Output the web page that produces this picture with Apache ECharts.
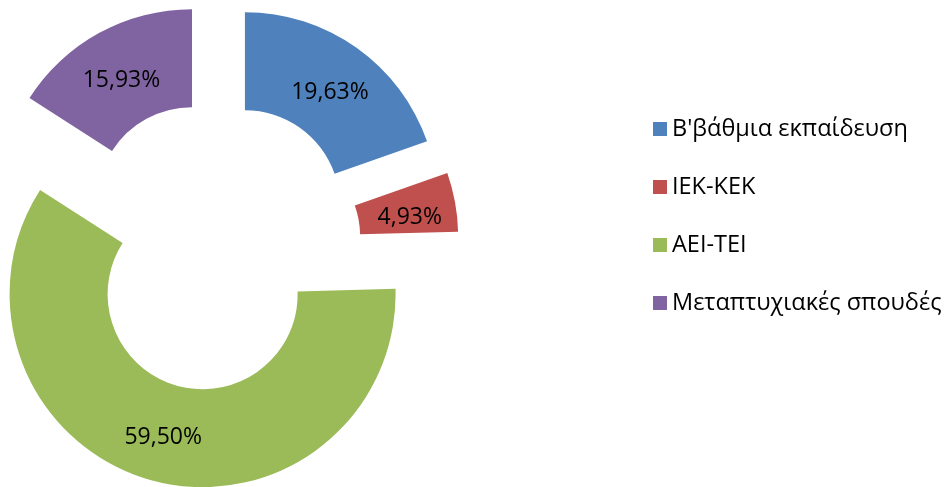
<!DOCTYPE html>
<html>
<head>
<meta charset="utf-8">
<script src="https://cdn.jsdelivr.net/npm/echarts@6/dist/echarts.min.js"></script>
<style>
  html, body { margin: 0; padding: 0; background: #fff; }
  #chart { width: 944px; height: 487px; }
</style>
</head>
<body>
<div id="chart"></div>
<script>
const categories = ["Β'βάθμια εκπαίδευση", 'ΙΕΚ-ΚΕΚ', 'ΑΕΙ-ΤΕΙ', 'Μεταπτυχιακές σπουδές']
const shares = [19.63, 4.93, 59.50, 15.93]
const colors = ['#4F81BD', '#C0504D', '#9BBB59', '#8064A2']

const myChart = echarts.init(document.getElementById('chart'))

// κάθε κομμάτι "βγαλμένο" προς τα έξω, όπως στο excel
const data = categories.map((name, i) => ({
    name: name,
    value: shares[i],
    selected: true,
    itemStyle: { color: colors[i] }
}))

const option = {
    animation: false,
    legend: {
        orient: 'vertical',
        left: 648,
        top: 112,
        itemWidth: 14,
        itemHeight: 14,
        itemGap: 34,
        icon: 'rect',
        selectedMode: false,
        textStyle: {
            fontFamily: 'Open Sans',
            fontSize: 23.5,
            color: '#000'
        },
        data: categories
    },
    series: [{
        type: 'pie',
        center: [216, 246],
        radius: [95, 193],
        startAngle: 90,
        clockwise: true,
        selectedMode: 'multiple',
        selectedOffset: 50,
        avoidLabelOverlap: false,
        emphasis: { disabled: true },
        label: {
            show: true,
            position: 'inside',
            color: '#000',
            fontFamily: 'Open Sans',
            fontSize: 23,
            // λίγο πιο χαμηλά, όπως στο excel
            formatter: (p) => (p.dataIndex === 2 ? '{g|' : '{t|') + p.value.toFixed(2).replace('.', ',') + '%}',
            rich: {
                t: { fontFamily: 'Open Sans', fontSize: 23, color: '#000', padding: [14, 0, 0, 0] },
                g: { fontFamily: 'Open Sans', fontSize: 23, color: '#000', padding: [4, 0, 0, 0] }
            }
        },
        labelLine: { show: false },
        data: data
    }]
}
myChart.setOption(option)
</script>
</body>
</html>
